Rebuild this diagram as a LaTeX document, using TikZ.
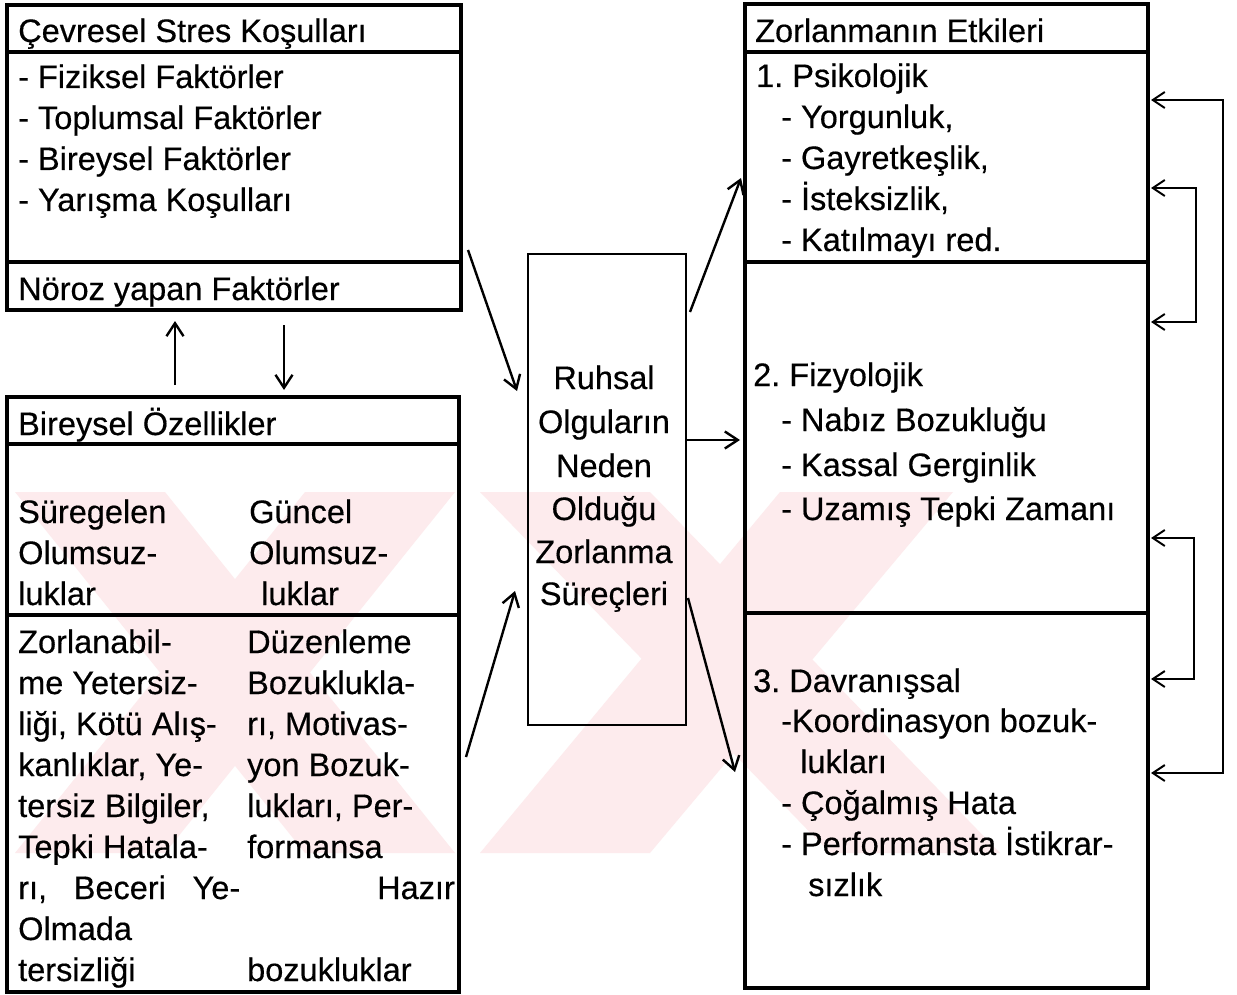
\documentclass[tikz,border=0pt]{standalone}
\usepackage{fontspec}
\setmainfont{Liberation Sans}[FakeBold=0.4]
\usetikzlibrary{arrows.meta}
\definecolor{wm}{RGB}{253,235,237}
\begin{document}
\frenchspacing
\begin{tikzpicture}[x=1pt,y=-1pt,
  txt/.style={anchor=base west, inner sep=0pt, font=\fontsize{32.5}{39}\selectfont},
  rtxt/.style={anchor=base east, inner sep=0pt, font=\fontsize{32.5}{39}\selectfont},
  ctxt/.style={anchor=base, inner sep=0pt, font=\fontsize{32.5}{39}\selectfont},
  frame/.style={draw, line width=4pt, rectangle, inner sep=0pt, outer sep=0pt, anchor=north west},
  thinframe/.style={draw, line width=2.6pt, rectangle, inner sep=0pt, outer sep=0pt, anchor=north west},
  sep/.style={line width=4pt},
  arr/.style={line width=2.4pt, -{Straight Barb[length=13pt,width=17pt,line width=2.4pt]}},
  loop/.style={line width=2pt, {Straight Barb[length=12pt,width=16pt,line width=2pt]}-{Straight Barb[length=12pt,width=16pt,line width=2pt]}}
]
\useasboundingbox (0,0) rectangle (1237,995);
\fill[white] (0,0) rectangle (1237,995);

% watermark
\fill[wm] (15,492) -- (165,492) -- (455,853) -- (305,853) -- cycle;
\fill[wm] (305,492) -- (455,492) -- (165,853) -- (15,853) -- cycle;
\fill[wm] (480,492) -- (650,492) -- (1000,853) -- (830,853) -- cycle;
\fill[wm] (780,492) -- (953,492) -- (650,853) -- (480,853) -- cycle;

% boxes
\node[frame, minimum width=454pt, minimum height=305pt] (env) at (7,5) {};
\draw[sep] (7,52) -- (461,52);
\draw[sep] (7,262) -- (461,262);

\node[frame, minimum width=452pt, minimum height=595pt] (bir) at (7,397) {};
\draw[sep] (7,444) -- (459,444);
\draw[sep] (7,615) -- (459,615);

\node[thinframe, minimum width=158pt, minimum height=471pt] (mid) at (528,254) {};

\node[frame, minimum width=403pt, minimum height=984pt] (eff) at (745,4) {};
\draw[sep] (745,52) -- (1148,52);
\draw[sep] (745,262) -- (1148,262);
\draw[sep] (745,613) -- (1148,613);

% texts: top-left box
\node[txt] (envT) at (18,42) {Çevresel Stres Koşulları};
\node[txt] (env1) at (18,88) {- Fiziksel Faktörler};
\node[txt] (env2) at (18,129) {- Toplumsal Faktörler};
\node[txt] (env3) at (18,170) {- Bireysel Faktörler};
\node[txt] (env4) at (18,211) {- Yarışma Koşulları};
\node[txt] (noroz) at (18,300) {Nöroz yapan Faktörler};

% Bireysel box
\node[txt] (birT) at (18,435) {Bireysel Özellikler};
\node[txt] (s1) at (18,523) {Süregelen};
\node[txt] (s2) at (18,564) {Olumsuz-};
\node[txt] (s3) at (18,605) {luklar};
\node[txt] (g1) at (249,523) {Güncel};
\node[txt] (g2) at (249,564) {Olumsuz-};
\node[txt] (g3) at (261,605) {luklar};

\node[txt] (l1) at (18,653) {Zorlanabil-};
\node[txt] (l2) at (18,694) {me Yetersiz-};
\node[txt] (l3) at (18,735) {liği, Kötü Alış-};
\node[txt] (l4) at (18,776) {kanlıklar, Ye-};
\node[txt] (l5) at (18,817) {tersiz Bilgiler,};
\node[txt] (l6) at (18,858) {Tepki Hatala-};
\node[txt] (l7) at (18,899) {\makebox[222pt][s]{rı, Beceri Ye-}};
\node[txt] (l8) at (18,940) {Olmada};
\node[txt] (l9) at (18,981) {tersizliği};

\node[txt] (r1) at (247,653) {Düzenleme};
\node[txt] (r2) at (247,694) {Bozuklukla-};
\node[txt] (r3) at (247,735) {rı, Motivas-};
\node[txt] (r4) at (247,776) {yon Bozuk-};
\node[txt] (r5) at (247,817) {lukları, Per-};
\node[txt] (r6) at (247,858) {formansa};
\node[rtxt] (r7) at (455,899) {Hazır};
\node[txt] (r9) at (247,981) {bozukluklar};

% middle box
\node[ctxt] (m1) at (604,389) {Ruhsal};
\node[ctxt] (m2) at (604,433) {Olguların};
\node[ctxt] (m3) at (604,477) {Neden};
\node[ctxt] (m4) at (604,520) {Olduğu};
\node[ctxt] (m5) at (604,563) {Zorlanma};
\node[ctxt] (m6) at (604,605) {Süreçleri};

% right box
\node[txt] (effT) at (755,42) {Zorlanmanın Etkileri};
\node[txt] (p0) at (756,87) {1. Psikolojik};
\node[txt] (p1) at (781,128) {- Yorgunluk,};
\node[txt] (p2) at (781,169) {- Gayretkeşlik,};
\node[txt] (p3) at (781,210) {- İsteksizlik,};
\node[txt] (p4) at (781,251) {- Katılmayı red.};

\node[txt] (f0) at (753,386) {2. Fizyolojik};
\node[txt] (f1) at (781,431) {- Nabız Bozukluğu};
\node[txt] (f2) at (781,476) {- Kassal Gerginlik};
\node[txt] (f3) at (781,520) {- Uzamış Tepki Zamanı};

\node[txt] (d0) at (753,692) {3. Davranışsal};
\node[txt] (d1) at (781,732) {-Koordinasyon bozuk-};
\node[txt] (d2) at (800,773) {lukları};
\node[txt] (d3) at (781,814) {- Çoğalmış Hata};
\node[txt] (d4) at (781,855) {- Performansta İstikrar-};
\node[txt] (d5) at (808,896) {sızlık};

% connector end points
\coordinate (a1s) at (468,250);  \coordinate (a1e) at (517,391);
\coordinate (a2s) at (466,757);  \coordinate (a2e) at (515,591);
\coordinate (a3s) at (690,312);  \coordinate (a3e) at (741,178);
\coordinate (a4s) at (687,440);  \coordinate (a4e) at (740,440);
\coordinate (a5s) at (688,598);  \coordinate (a5e) at (735,772);
\coordinate (a6s) at (175,385);  \coordinate (a6e) at (175,321);
\coordinate (a7s) at (284,325);  \coordinate (a7e) at (284,390);

\draw[arr] (a1s) -- (a1e);
\draw[arr] (a2s) -- (a2e);
\draw[arr] (a3s) -- (a3e);
\draw[arr] (a4s) -- (a4e);
\draw[arr] (a5s) -- (a5e);
\draw[arr] (a6s) -- (a6e);
\draw[arr] (a7s) -- (a7e);

% feedback loops
\coordinate (o1) at (1151,100); \coordinate (o2) at (1151,773);
\coordinate (i1) at (1151,188); \coordinate (i2) at (1151,322);
\coordinate (j1) at (1151,538); \coordinate (j2) at (1151,679);
\draw[loop] (o1) -- (1223,100) -- (1223,773) -- (o2);
\draw[loop] (i1) -- (1196,188) -- (1196,322) -- (i2);
\draw[loop] (j1) -- (1194,538) -- (1194,679) -- (j2);
\end{tikzpicture}
\end{document}
